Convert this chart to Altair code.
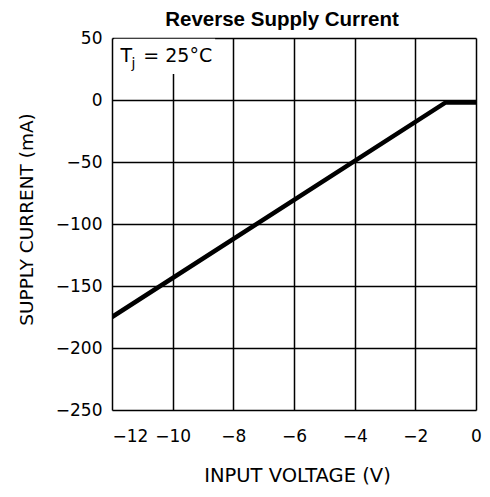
import altair as alt
import pandas as pd

# Data
voltage = [-12, -1, 0]
current = [-175, -2, -2]

x_ticks = [-12, -10, -8, -6, -4, -2, 0]
y_ticks = [50, 0, -50, -100, -150, -200, -250]

# annotation box (white background behind the label) and label pieces
box_x = [-11.93]
box_x2 = [-8.6]
box_y = [49.3]
box_y2 = [21]

df = pd.DataFrame({"v": voltage, "i": current})
box = pd.DataFrame({"x": box_x, "x2": box_x2, "y": box_y, "y2": box_y2})
lbl_t = pd.DataFrame({"x": [-11.72], "y": [30.5], "t": ["T"]})
lbl_j = pd.DataFrame({"x": [-11.36], "y": [25.5], "t": ["j"]})
lbl_rest = pd.DataFrame({"x": [-10.97], "y": [30.5], "t": ["= 25°C"]})

FONT = "DejaVu Sans"

xs = alt.Scale(domain=[-12, 0], nice=False, zero=False)
ys = alt.Scale(domain=[-250, 50], nice=False, zero=False)

x_axis = alt.Axis(
    values=x_ticks, title="INPUT VOLTAGE (V)", grid=True, gridColor="black",
    gridWidth=1.5, gridOpacity=1, ticks=False, tickSize=0, domain=False,
    labelFont=FONT, labelFontSize=17, labelColor="black", labelPadding=18,
    labelFlush=False,
    labelAlign={"condition": {"test": "datum.value == -12", "value": "left"}, "value": "center"},
    titleFont=FONT, titleFontSize=19.5, titleFontWeight="normal", titleColor="black",
    titleX=185, titleY=65, titleBaseline="middle", titleAlign="center",
)
y_axis = alt.Axis(
    values=y_ticks, title="SUPPLY CURRENT (mA)", grid=True, gridColor="black",
    gridWidth=1.5, gridOpacity=1, ticks=False, tickSize=0, domain=False,
    labelFont=FONT, labelFontSize=17, labelColor="black", labelPadding=10,
    labelFlush=False,
    titleFont=FONT, titleFontSize=18.5, titleFontWeight="normal", titleColor="black",
    titleX=-86, titleY=181, titleAngle=-90, titleBaseline="middle", titleAlign="center",
)

line = alt.Chart(df).mark_line(color="black", strokeWidth=4.5, clip=True).encode(
    x=alt.X("v:Q", scale=xs, axis=x_axis),
    y=alt.Y("i:Q", scale=ys, axis=y_axis),
)

rect = alt.Chart(box).mark_rect(color="white").encode(
    x=alt.X("x:Q", scale=xs), x2="x2:Q",
    y=alt.Y("y:Q", scale=ys), y2="y2:Q",
)

t1 = alt.Chart(lbl_t).mark_text(font=FONT, fontSize=19, align="left", baseline="alphabetic", color="black").encode(
    x=alt.X("x:Q", scale=xs), y=alt.Y("y:Q", scale=ys), text="t:N")
t2 = alt.Chart(lbl_j).mark_text(font=FONT, fontSize=14, align="left", baseline="alphabetic", color="black").encode(
    x=alt.X("x:Q", scale=xs), y=alt.Y("y:Q", scale=ys), text="t:N")
t3 = alt.Chart(lbl_rest).mark_text(font=FONT, fontSize=19, align="left", baseline="alphabetic", color="black").encode(
    x=alt.X("x:Q", scale=xs), y=alt.Y("y:Q", scale=ys), text="t:N")

chart = alt.layer(line, rect, t1, t2, t3).properties(
    width=364, height=372,
    title=alt.TitleParams("Reverse Supply Current", font="Liberation Sans", fontSize=20.5,
                          fontWeight="bold", color="black", anchor="middle", dx=-12, offset=-1),
    autosize=alt.AutoSizeParams(type="none"),
    padding={"left": 104, "top": 30, "right": 6, "bottom": 76},
).configure_view(stroke="black", strokeWidth=2).configure(background="white")

chart.save("out.html", embed_options={"renderer": "svg", "actions": False})
